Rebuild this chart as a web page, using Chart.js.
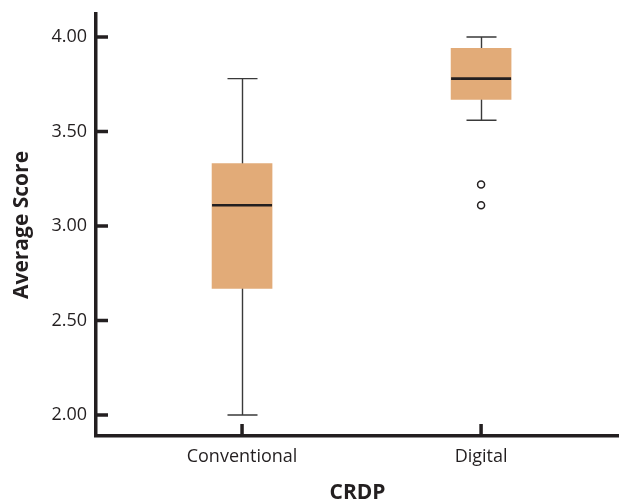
<!DOCTYPE html>
<html>
<head>
<meta charset="utf-8">
<script src="https://cdn.jsdelivr.net/npm/chart.js@4"></script>
<style>
  html, body { margin: 0; padding: 0; background: #fff; }
  #wrap { width: 619px; height: 502px; }
</style>
</head>
<body>
<div id="wrap"><canvas id="boxChart" width="619" height="502"></canvas></div>
<script>
// --- data ---
const categories = ['Conventional', 'Digital'];
const whiskerLow = [2.00, 3.56];
const q1 = [2.67, 3.67];
const median = [3.11, 3.78];
const q3 = [3.33, 3.94];
const whiskerHigh = [3.78, 4.00];
const outliers = [[], [3.22, 3.11]];
const yTicks = [2.00, 2.50, 3.00, 3.50, 4.00];

const ink = '#231f20';
const boxFill = '#e2ab78';

// boxes as floating bars, outliers as scatter points
const boxData = categories.map((c, i) => ({ x: i + 1, y: [q1[i], q3[i]] }));
const outlierData = [];
outliers.forEach((list, i) => list.forEach(v => outlierData.push({ x: i + 1, y: v })));

// no label overhang padding, the axes sit exactly where the figure has them
function fixBox(s, size) {
    if (s.isHorizontal()) s.height = size; else s.width = size;
    s.paddingLeft = 0; s.paddingRight = 0; s.paddingTop = 0; s.paddingBottom = 0;
}

// whiskers behind the boxes, medians and inward ticks on top
const boxPlotExtras = {
    id: 'boxPlotExtras',
    beforeDatasetsDraw(chart) {
        const { ctx, scales: { x, y } } = chart;
        ctx.save();
        ctx.strokeStyle = '#3a3a3a';
        ctx.lineWidth = 1.4;
        categories.forEach((c, i) => {
            const px = Math.round(x.getPixelForValue(i + 1)) + 0.5;
            ctx.beginPath();
            ctx.moveTo(px, y.getPixelForValue(whiskerLow[i]));
            ctx.lineTo(px, y.getPixelForValue(whiskerHigh[i]));
            [whiskerLow[i], whiskerHigh[i]].forEach(v => {
                const py = y.getPixelForValue(v);
                ctx.moveTo(px - 15, py);
                ctx.lineTo(px + 15, py);
            });
            ctx.stroke();
        });
        ctx.restore();
    },
    afterDatasetsDraw(chart) {
        const { ctx, scales: { x, y } } = chart;
        ctx.save();
        ctx.strokeStyle = ink;
        ctx.lineWidth = 2.6;
        categories.forEach((c, i) => {
            const px = x.getPixelForValue(i + 1);
            const py = y.getPixelForValue(median[i]);
            ctx.beginPath();
            ctx.moveTo(px - 30, py);
            ctx.lineTo(px + 30, py);
            ctx.stroke();
        });
        ctx.restore();
    },
    afterDraw(chart) {
        const { ctx, chartArea, scales: { x, y } } = chart;
        ctx.save();
        ctx.strokeStyle = ink;
        ctx.lineWidth = 3.5;
        ctx.beginPath();
        yTicks.forEach(v => {
            const py = y.getPixelForValue(v);
            ctx.moveTo(chartArea.left, py);
            ctx.lineTo(chartArea.left + 12, py);
        });
        categories.forEach((c, i) => {
            const px = x.getPixelForValue(i + 1);
            ctx.moveTo(px, chartArea.bottom);
            ctx.lineTo(px, chartArea.bottom - 12);
        });
        ctx.stroke();
        ctx.restore();
    }
};

const tickFont = { family: '"Open Sans", sans-serif', size: 18 };
const titleFont = { family: '"Open Sans", sans-serif', size: 21, weight: 'bold', lineHeight: 1 };

new Chart(document.getElementById('boxChart'), {
    type: 'bar',
    data: {
        datasets: [
            {
                type: 'bar',
                data: boxData,
                backgroundColor: boxFill,
                borderWidth: 0,
                barThickness: 60
            },
            {
                type: 'scatter',
                data: outlierData,
                pointRadius: 3.5,
                pointBorderWidth: 1.5,
                pointBorderColor: ink,
                pointBackgroundColor: '#fff'
            }
        ]
    },
    options: {
        responsive: false,
        animation: false,
        layout: { autoPadding: false, padding: { top: 14, right: 0, bottom: 0, left: 0 } },
        plugins: { legend: { display: false }, tooltip: { enabled: false } },
        scales: {
            x: {
                type: 'linear',
                offset: false,
                min: 0.389,
                max: 2.577,
                grid: { display: false, drawTicks: false },
                border: { color: ink, width: 3.5 },
                afterBuildTicks: (s) => { s.ticks = categories.map((c, i) => ({ value: i + 1 })); },
                afterFit: (s) => fixBox(s, 66),
                ticks: {
                    color: ink,
                    font: tickFont,
                    padding: 10,
                    maxRotation: 0,
                    callback: (v) => categories[v - 1]
                },
                title: {
                    display: true,
                    text: 'CRDP',
                    color: ink,
                    font: titleFont,
                    padding: { top: 0, bottom: -2 }
                }
            },
            y: {
                min: 1.889,
                max: 4.122,
                grid: { display: false, drawTicks: false },
                border: { color: ink, width: 3.5 },
                afterBuildTicks: (s) => { s.ticks = yTicks.map(v => ({ value: v })); },
                afterFit: (s) => fixBox(s, 96),
                ticks: {
                    color: ink,
                    font: tickFont,
                    padding: 9,
                    callback: (v) => v.toFixed(2)
                },
                title: {
                    display: true,
                    text: 'Average Score',
                    color: ink,
                    font: titleFont,
                    padding: { top: 12, bottom: 0 }
                }
            }
        }
    },
    plugins: [boxPlotExtras]
});
</script>
</body>
</html>
